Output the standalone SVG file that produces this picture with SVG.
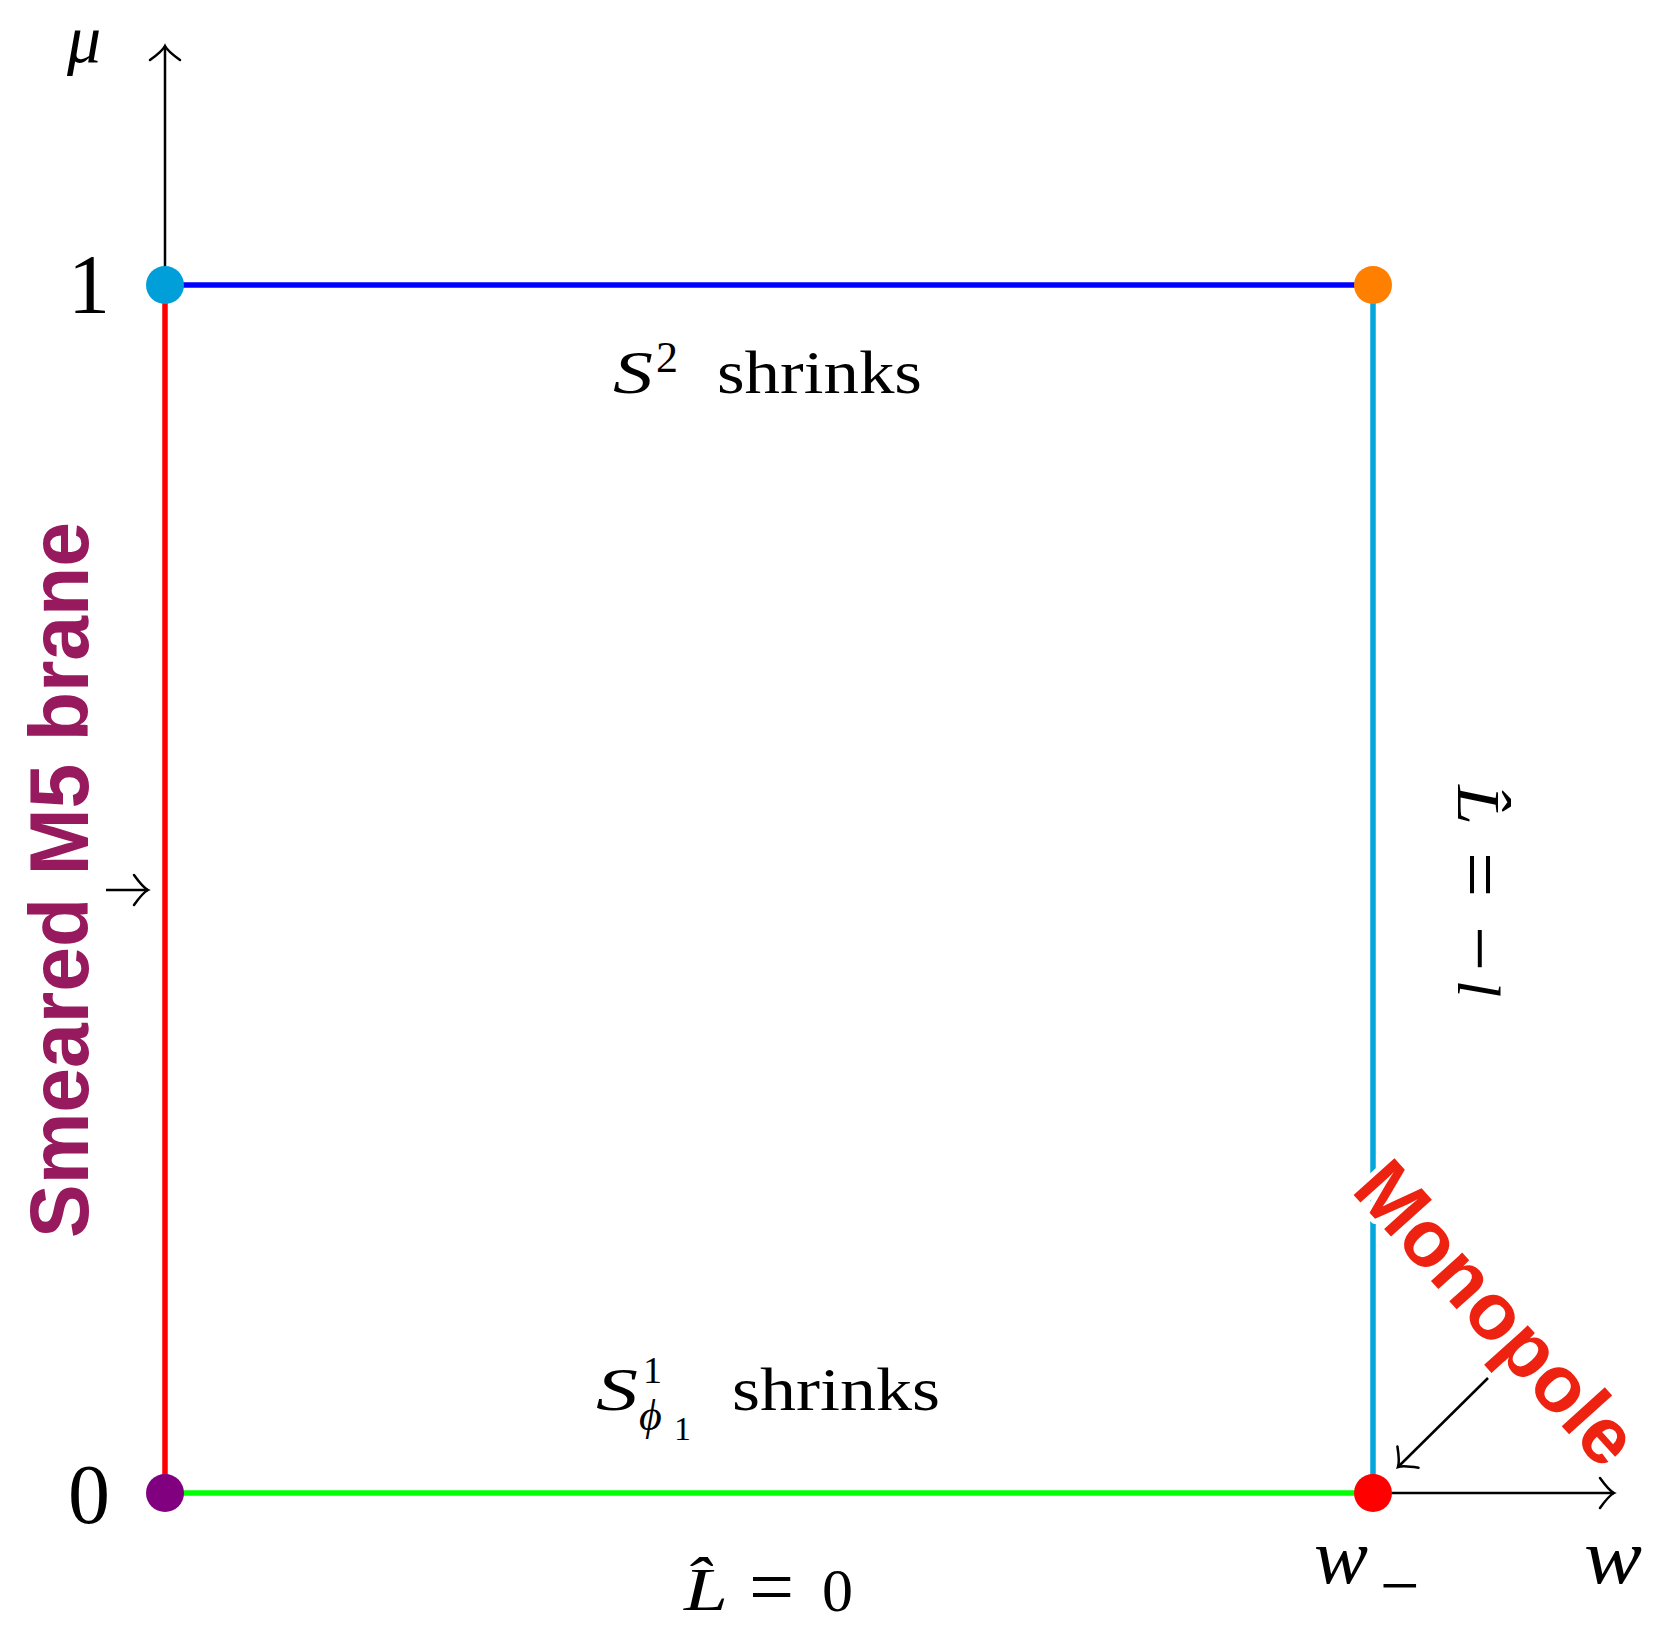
<svg xmlns="http://www.w3.org/2000/svg" width="1665" height="1629" viewBox="0 0 1665 1629">
<style>
.m{font-family:"Liberation Serif","DejaVu Serif",serif;fill:#000}
.i{font-style:italic}
.ax{stroke:#000;stroke-width:2.5;fill:none}
.edge{stroke-width:5.5;fill:none}
</style>
<defs>
<marker id="ah" markerUnits="userSpaceOnUse" viewBox="-18 -18 22 36" markerWidth="22" markerHeight="36" refX="0" refY="0" orient="auto" overflow="visible">
<path d="M -14 -15 C -9 -8 -4 -2 0 0 C -4 2 -9 8 -14 15" fill="none" stroke="#000" stroke-width="2.5" stroke-linecap="round"/>
</marker>
</defs>
<rect width="1665" height="1629" fill="#fff"/>
<g id="connectors">
<line class="ax" x1="165" y1="1493" x2="165" y2="46" marker-end="url(#ah)"/>
<line class="ax" x1="1373" y1="1493" x2="1614" y2="1493" marker-end="url(#ah)"/>
<line class="edge" x1="165" y1="285" x2="1373" y2="285" stroke="#0000ff"/>
<line class="edge" x1="165" y1="285" x2="165" y2="1493" stroke="#ff0000"/>
<line class="edge" x1="165" y1="1493" x2="1373" y2="1493" stroke="#00ff00"/>
<line class="edge" x1="1373" y1="285" x2="1373" y2="1493" stroke="#05a6dc"/>
<line class="ax" x1="1488" y1="1378" x2="1398" y2="1467" marker-end="url(#ah)"/>
<line class="ax" x1="106" y1="890" x2="148" y2="890" marker-end="url(#ah)"/>
</g>
<g id="node-top-left"><circle cx="165" cy="285" r="19" fill="#009fd9"/></g>
<g id="node-top-right"><circle cx="1373" cy="285" r="19" fill="#ff8000"/></g>
<g id="node-bottom-left"><circle cx="165" cy="1493" r="19" fill="#800080"/></g>
<g id="node-bottom-right"><circle cx="1373" cy="1493" r="19" fill="#ff0000"/></g>
<g id="labels">
<text class="m i" x="84" y="62" font-size="68" text-anchor="middle">μ</text>
<text class="m" x="89" y="313" font-size="84" text-anchor="middle">1</text>
<text class="m" x="89" y="1523" font-size="84" text-anchor="middle">0</text>
<text class="m i" x="1314" y="1583" font-size="78" textLength="54" lengthAdjust="spacingAndGlyphs">w</text>
<text class="m" x="1380" y="1609" font-size="70">−</text>
<text class="m i" x="1584" y="1583" font-size="78" textLength="58" lengthAdjust="spacingAndGlyphs">w</text>
<text class="m i" x="613" y="393" font-size="62" textLength="40" lengthAdjust="spacingAndGlyphs">S</text>
<text class="m" x="656" y="372" font-size="44">2</text>
<text class="m" x="717" y="393" font-size="62" textLength="205" lengthAdjust="spacingAndGlyphs">shrinks</text>
<text class="m i" x="596" y="1410" font-size="62" textLength="42" lengthAdjust="spacingAndGlyphs">S</text>
<text class="m" x="643" y="1383" font-size="38">1</text>
<text class="m i" x="639" y="1430" font-size="44">ϕ</text>
<text class="m" x="674" y="1440" font-size="34">1</text>
<text class="m" x="732" y="1410" font-size="62" textLength="208" lengthAdjust="spacingAndGlyphs">shrinks</text>
<text class="m i" x="684" y="1610" font-size="62" textLength="44" lengthAdjust="spacingAndGlyphs">L̂</text>
<text class="m" x="749" y="1614" font-size="80">=</text>
<text class="m" x="822" y="1611" font-size="62">0</text>
<g transform="translate(1458,890) rotate(90)">
<text class="m i" x="-105" y="0" font-size="62" textLength="40" lengthAdjust="spacingAndGlyphs">L̂</text>
<text class="m" x="-38" y="5" font-size="80">=</text>
<text class="m" x="36" y="5" font-size="80">−</text>
<text class="m i" x="90" y="0" font-size="62">l</text>
</g>
<text transform="translate(88,1238) rotate(-90)" font-family="Liberation Sans, Arial, sans-serif" font-weight="bold" font-size="84" fill="#971a5e" textLength="716" lengthAdjust="spacingAndGlyphs">Smeared M5 brane</text>
<text transform="translate(1350,1191) rotate(48)" font-family="Liberation Sans, Arial, sans-serif" font-weight="bold" font-size="80" fill="#ee2211" stroke="#fff" stroke-width="10" stroke-linejoin="round" paint-order="stroke">Monopole</text>
</g>
</svg>
